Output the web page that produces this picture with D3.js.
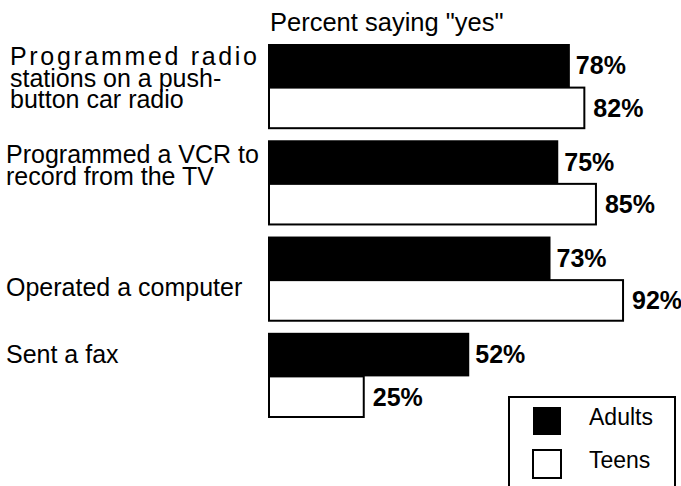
<!DOCTYPE html>
<html lang="en">
<head>
<meta charset="UTF-8">
<title>Percent saying "yes"</title>
<script src="https://cdn.jsdelivr.net/npm/d3@7"></script>
<style>
  body { margin:0; background:#fff; }
  svg { display:block; }
  text { font-family: "Liberation Sans", Arial, Helvetica, sans-serif; fill:#000; }
  .cat { font-size:25px; }
  .val { font-size:25px; font-weight:bold; }
  .title { font-size:25.5px; }
  .leg { font-size:23px; }
</style>
</head>
<body>
<svg id="chart" width="681" height="486"></svg>
<script>
// data
const categories = [
  ["Programmed radio", "stations on a push-", "button car radio"],
  ["Programmed a VCR to", "record from the TV"],
  ["Operated a computer"],
  ["Sent a fax"]
];
const series = ["Adults", "Teens"];
const adults = [78, 75, 73, 52];
const teens  = [82, 85, 92, 25];

const width = 681, height = 486;
const svg = d3.select("#chart");

const x = d3.scaleLinear().domain([0, 100]).range([268, 655]);
const y = d3.scaleBand()
  .domain(d3.range(categories.length))
  .range([44, 418])
  .paddingInner(0.115)
  .paddingOuter(0);
const ys = d3.scaleBand().domain(series).range([0, y.bandwidth()]);

const rows = categories.map((c, i) => ({ i, lines: c, adults: adults[i], teens: teens[i] }));

// title
svg.append("text")
  .attr("class", "title")
  .attr("x", 270)
  .attr("y", 31)
  .text('Percent saying "yes"');

// category labels (hand placed in the original)
const labelX = [10, 6, 6, 6];
const labelDy = [21, 23, 59, 30];
const lineH = 21.5;

const g = svg.selectAll("g.row").data(rows).join("g")
  .attr("class", "row")
  .attr("transform", d => `translate(0,${y(d.i)})`);

g.each(function(d) {
  const t = d3.select(this).append("text").attr("class", "cat");
  d.lines.forEach((ln, k) => {
    const ts = t.append("tspan")
      .attr("x", labelX[d.i])
      .attr("y", labelDy[d.i] + k * lineH)
      .text(ln);
    if (d.i === 0 && k === 0) ts.attr("textLength", 247).attr("lengthAdjust", "spacing");
  });
});

// adults bars
g.append("rect")
  .attr("x", x(0))
  .attr("y", ys("Adults"))
  .attr("width", d => x(d.adults) - x(0))
  .attr("height", ys.bandwidth() + 1)
  .attr("fill", "#000");

// teens bars
g.append("rect")
  .attr("x", x(0) + 1)
  .attr("y", ys("Teens") + 1)
  .attr("width", d => x(d.teens) - x(0) - 2)
  .attr("height", ys.bandwidth() - 2)
  .attr("fill", "#fff")
  .attr("stroke", "#000")
  .attr("stroke-width", 2);

// value labels
g.append("text")
  .attr("class", "val")
  .attr("x", d => x(d.adults) + 6)
  .attr("y", ys("Adults") + ys.bandwidth() / 2)
  .attr("dy", "0.36em")
  .text(d => d.adults + "%");

g.append("text")
  .attr("class", "val")
  .attr("x", d => x(d.teens) + 8)
  .attr("y", ys("Teens") + ys.bandwidth() / 2)
  .attr("dy", "0.36em")
  .text(d => d.teens + "%");

// legend
const lg = svg.append("g").attr("transform", "translate(509,397)");
lg.append("rect")
  .attr("width", 166)
  .attr("height", 100)
  .attr("fill", "#fff")
  .attr("stroke", "#000")
  .attr("stroke-width", 2);

const li = lg.selectAll("g").data(series).join("g")
  .attr("transform", (d, i) => `translate(0,${i * 43})`);
li.append("rect")
  .attr("x", 24)
  .attr("y", 10)
  .attr("width", 28)
  .attr("height", 28)
  .attr("fill", (d, i) => i ? "#fff" : "#000")
  .attr("stroke", "#000")
  .attr("stroke-width", (d, i) => i ? 2 : 0);
li.append("text")
  .attr("class", "leg")
  .attr("x", 80)
  .attr("y", 28)
  .text(d => d);
</script>
</body>
</html>
